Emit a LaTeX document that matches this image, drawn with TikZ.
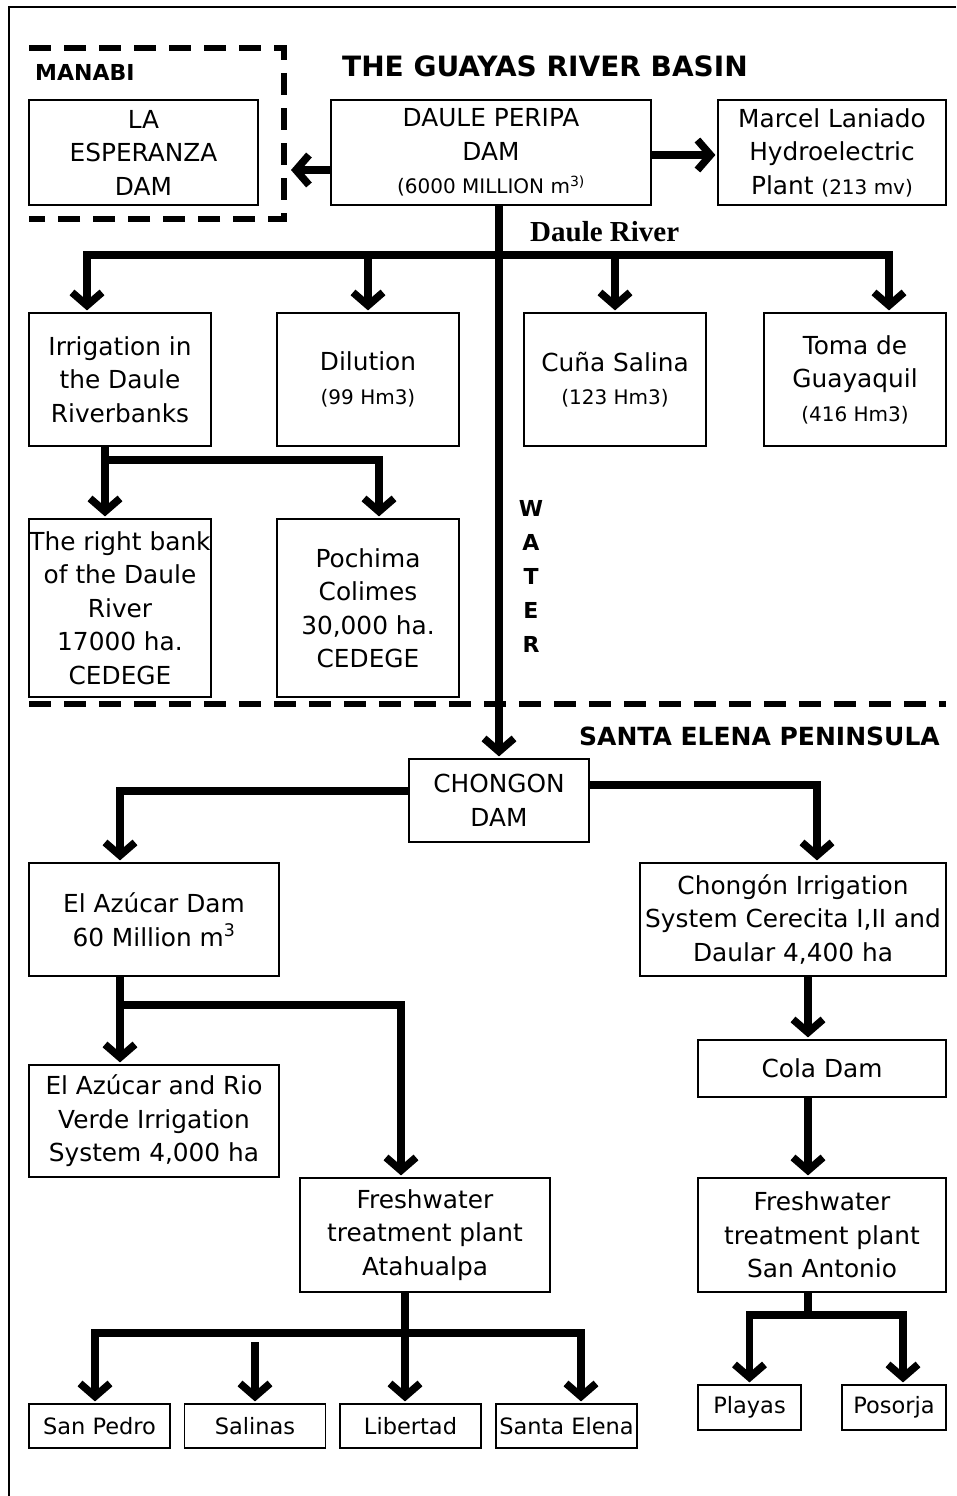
\documentclass[tikz,border=0pt]{standalone}
\usepackage{fontspec}
\setmainfont{DejaVu Sans}
\newfontfamily\riverfont{Liberation Serif}
\usepackage{tikz}
\usetikzlibrary{arrows.meta,positioning}
\newcommand{\mainsz}{\fontsize{24.8}{33.5}\selectfont}
\newcommand{\smallsz}{\fontsize{20}{34}\selectfont}
\newcommand{\townsz}{\fontsize{22.5}{26}\selectfont}
\tikzstyle{box}=[draw, line width=1.2pt, inner sep=0pt, align=center]
\tikzstyle{demand}=[box, minimum width=182pt, minimum height=133pt]
\tikzstyle{area}=[box, minimum width=182pt, minimum height=178pt]
\tikzstyle{store}=[box, minimum width=250pt, minimum height=113pt]
\tikzstyle{town}=[box, minimum width=141pt, minimum height=44pt, font=\townsz]
\tikzstyle{heading}=[inner sep=0pt]
\tikzstyle{flow}=[->, line width=7.5pt, shorten >=2pt]
\tikzstyle{border}=[dash pattern=on 22pt off 13pt, line width=6pt]

\begin{document}
\begin{tikzpicture}[x=1pt,y=1pt,>={Straight Barb[length=13pt,width=30pt]},font=\mainsz]
\useasboundingbox (0,0) rectangle (956,-1496);
\draw [line width=2.5pt] (956,-7) -- (9,-7) -- (9,-1496);
% headings
\node [heading, font=\fontsize{28}{32}\selectfont\bfseries, anchor=west] (basin) at (342,-66) {THE GUAYAS RIVER BASIN};
\node [heading, font=\fontsize{22}{26}\selectfont\bfseries, anchor=west] (manabi) at (35,-72) {MANABI};
\node [heading, font=\fontsize{25}{28}\selectfont\bfseries, anchor=east] (peninsula) at (940,-736) {SANTA ELENA PENINSULA};
\node [heading, font=\riverfont\fontsize{29}{32}\selectfont\bfseries, anchor=west] (river) at (530,-232) {Daule River};
\node [heading, font=\fontsize{22}{34}\selectfont\bfseries, align=center] (water) at (531,-576) {W\\A\\T\\E\\R};
% Guayas basin
\node [box, minimum width=229pt, minimum height=105pt] (esp) at (143.5,-152.5) {LA\\ESPERANZA\\DAM};
\node [box, minimum width=320pt, minimum height=105pt] (daule) [right of=esp, node distance=347.5pt] {DAULE PERIPA\\DAM\\{\smallsz (6000 MILLION m\textsuperscript{3)}}};
\node [box, minimum width=228pt, minimum height=105pt] (marcel) [right of=daule, node distance=341pt] {Marcel Laniado\\Hydroelectric\\Plant {\smallsz (213 mv)}};
\node [demand] (irr) at (120,-379.5) {Irrigation in\\the Daule\\Riverbanks};
\node [demand] (dil) [right of=irr, node distance=248pt] {Dilution\\{\smallsz (99 Hm3)}};
\node [demand] (cuna) [right of=dil, node distance=247pt] {Cuña Salina\\{\smallsz (123 Hm3)}};
\node [demand] (toma) [right of=cuna, node distance=240pt] {Toma de\\Guayaquil\\{\smallsz (416 Hm3)}};
\node [area] (rbank) [below of=irr, node distance=228.5pt] {The right bank\\of the Daule\\River\\17000 ha.\\CEDEGE};
\node [area] (poch) [right of=rbank, node distance=248pt] {Pochima\\Colimes\\30,000 ha.\\CEDEGE};
% Santa Elena
\node [box, minimum width=180pt, minimum height=83pt] (chongon) at (499,-800.5) {CHONGON\\DAM};
\node [store] (azucar) at (154,-919.5) {El Azúcar Dam\\60 Million m\textsuperscript{3}};
\node [box, minimum width=306pt, minimum height=113pt] (cirr) at (793,-919.5) {Chongón Irrigation\\System Cerecita I,II and\\Daular 4,400 ha};
\node [store, minimum height=112pt] (azirr) [below of=azucar, node distance=201.5pt] {El Azúcar and Rio\\Verde Irrigation\\System 4,000 ha};
\node [box, minimum width=248pt, minimum height=57pt] (cola) at (822,-1068.5) {Cola Dam};
\node [store, minimum height=114pt] (fata) at (425,-1235) {Freshwater\\treatment plant\\Atahualpa};
\node [box, minimum width=248pt, minimum height=114pt] (fsan) [below of=cola, node distance=166.5pt] {Freshwater\\treatment plant\\San Antonio};
\node [town] (pedro) at (99.5,-1426) {San Pedro};
\node [town] (salinas) [right of=pedro, node distance=155.5pt] {Salinas};
\node [town] (libertad) [right of=salinas, node distance=155.5pt] {Libertad};
\node [town] (selena) [right of=libertad, node distance=156pt] {Santa Elena};
\node [town, minimum width=103pt, minimum height=45pt] (playas) at (749.5,-1407.5) {Playas};
\node [town, minimum width=104pt, minimum height=45pt] (posorja) [right of=playas, node distance=144.5pt] {Posorja};
% borders
\draw [border] (29,-48) -| (284,-219) -- (29,-219);
\draw [border] (29,-704) -- (946,-704);
\coordinate (manabiE) at (289,-170);
\coordinate (busL) at (87,-255);
\coordinate (busR) at (889,-255);
\coordinate (irrbus) at (105,-460);
\coordinate (azbus) at (120,-1005);
\coordinate (atbus) at (405,-1333);
\coordinate (sanx) at (808,-1315);
% flows
\draw [flow] ([yshift=-17.5pt]daule.west) -- (manabiE);
\draw [flow] ([yshift=-2.5pt]daule.east) -- ([yshift=-2.5pt]marcel.west);
\draw [flow] (daule.south -| chongon.north) -- (chongon.north);
\draw [flow, <->, shorten <=2pt] (busL |- irr.north) -- (busL) -- (busR) -- (busR |- toma.north);
\draw [flow] (dil.north |- busL) -- (dil.north);
\draw [flow] (cuna.north |- busL) -- (cuna.north);
\draw [flow] (irrbus |- irr.south) -- (irrbus |- rbank.north);
\draw [flow] (irrbus) -| ([xshift=11pt]poch.north);
\draw [flow] ([yshift=9.5pt]chongon.west) -| ([xshift=-34pt]azucar.north);
\draw [flow] ([yshift=15.5pt]chongon.east) -| ([xshift=24pt]cirr.north);
\draw [flow] (azbus |- azucar.south) -- (azbus |- azirr.north);
\draw [flow] (azbus) -| ([xshift=-24pt]fata.north);
\draw [flow] (sanx |- cirr.south) -- (sanx |- cola.north);
\draw [flow] (sanx |- cola.south) -- (sanx |- fsan.north);
\draw [line width=7.5pt] (sanx |- fsan.south) -- (sanx);
\draw [flow, <->, shorten <=2pt] (playas.north) |- (sanx) -| ([xshift=9pt]posorja.north);
\draw [flow] (atbus |- fata.south) -- (atbus |- libertad.north);
\draw [flow, <->, shorten <=2pt] ([xshift=-4.5pt]pedro.north) |- (atbus) -| ([xshift=14.5pt]selena.north);
\draw [flow, shorten <=9pt] (salinas.north |- atbus) -- (salinas.north);
\end{tikzpicture}
\end{document}
